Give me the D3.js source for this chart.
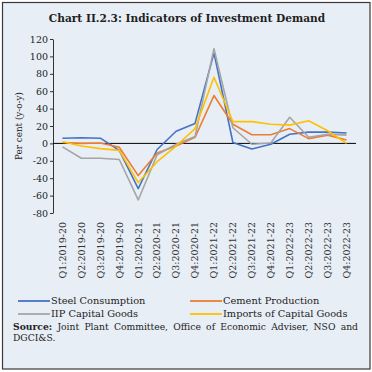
<!DOCTYPE html>
<html>
<head>
<meta charset="utf-8">
<script src="https://cdn.jsdelivr.net/npm/d3@7"></script>
<style>
  html, body { margin: 0; padding: 0; background: #ffffff; }
  svg { display: block; }
</style>
</head>
<body>
<svg id="chart" width="372" height="372"></svg>
<script>
const categories = ["Q1:2019-20","Q2:2019-20","Q3:2019-20","Q4:2019-20",
  "Q1:2020-21","Q2:2020-21","Q3:2020-21","Q4:2020-21",
  "Q1:2021-22","Q2:2021-22","Q3:2021-22","Q4:2021-22",
  "Q1:2022-23","Q2:2022-23","Q3:2022-23","Q4:2022-23"];
const steelConsumption = [6, 6.5, 6, -8, -52, -7, 14, 23, 104, 1, -6.5, -1, 10.5, 13, 13, 12];
const cementProduction = [1, 0, 0.5, -4.5, -37, -11, -3, 7, 55, 22, 10, 10, 17, 5.5, 9.5, 4];
const iipCapitalGoods = [-4, -17, -17, -18.5, -65, -13, -1, 8, 109, 18, -1, 0.5, 30, 7, 10.5, 9.5];
const importsCapitalGoods = [2, -3, -6, -8, -45, -21, -3, 17, 76, 25, 25, 22, 21, 26, 14.5, 0];
const yTicks = [-80, -60, -40, -20, 0, 20, 40, 60, 80, 100, 120];
const seriesNames = ["Steel Consumption", "Cement Production", "IIP Capital Goods", "Imports of Capital Goods"];
const seriesColors = ["#4472C4", "#ED7D31", "#A5A5A5", "#FFC000"];
const seriesValues = [steelConsumption, cementProduction, iipCapitalGoods, importsCapitalGoods];

const FONT = "'DejaVu Serif', serif";
const svg = d3.select("#chart");

// frame
svg.append("rect").attr("x", 2.5).attr("y", 2.5).attr("width", 367.5).attr("height", 366.5)
  .attr("fill", "#E8EEF5").attr("stroke", "#3a3a3a").attr("stroke-width", 1.2);

// title
svg.append("text").attr("x", 187).attr("y", 22).attr("text-anchor", "middle")
  .attr("font-family", FONT).attr("font-weight", "bold").attr("font-size", 10.6)
  .attr("fill", "#1f1f1f").text("Chart II.2.3: Indicators of Investment Demand");

const x = d3.scaleBand().domain(categories).range([53, 356]);
const y = d3.scaleLinear().domain([-80, 120]).range([213, 39]);
const cx = d => x(d) + x.bandwidth() / 2;

// y axis
const yAxis = svg.append("g").attr("transform", "translate(53,0)")
  .call(d3.axisLeft(y).tickValues(yTicks).tickFormat(d => String(d))
    .tickSize(3).tickSizeOuter(0).tickPadding(2));
yAxis.select(".domain").attr("stroke", "#333");
yAxis.selectAll(".tick line").attr("stroke", "#333");
yAxis.selectAll(".tick text").attr("font-family", FONT).attr("font-size", 9.5).attr("fill", "#222");

// y title
svg.append("text").attr("transform", "translate(22,126) rotate(-90)").attr("text-anchor", "middle")
  .attr("font-family", FONT).attr("font-size", 8.8).attr("fill", "#222").text("Per cent (y-o-y)");

// zero line
svg.append("line").attr("x1", 53).attr("x2", 356).attr("y1", y(0)).attr("y2", y(0))
  .attr("stroke", "#000").attr("stroke-width", 1);

// x labels
svg.append("g").selectAll("text").data(categories).join("text")
  .attr("transform", d => `translate(${cx(d)},222) rotate(-90)`)
  .attr("text-anchor", "end").attr("dy", "0.35em")
  .attr("font-family", FONT).attr("font-size", 9.5).attr("fill", "#333")
  .text(d => d);

// lines
const line = d3.line().x((v, i) => cx(categories[i])).y(v => y(v));
svg.append("g").selectAll("path").data(seriesValues).join("path")
  .attr("d", d => line(d)).attr("fill", "none")
  .attr("stroke", (d, i) => seriesColors[i]).attr("stroke-width", 1.6)
  .attr("stroke-linejoin", "round");

// legend
const legPos = [[18, 301], [190, 301], [18, 314], [190, 314]];
const leg = svg.append("g").selectAll("g").data(seriesNames).join("g")
  .attr("transform", (d, i) => `translate(${legPos[i][0]},${legPos[i][1]})`);
leg.append("line").attr("x1", 0).attr("x2", 32).attr("y1", 0).attr("y2", 0)
  .attr("stroke", (d, i) => seriesColors[i]).attr("stroke-width", 1.8);
leg.append("text").attr("x", 33).attr("dy", "0.35em")
  .attr("font-family", FONT).attr("font-size", 9.8).attr("fill", "#222").text(d => d);

// source (justified first line)
const srcWords = ["Source:", "Joint", "Plant", "Committee,", "Office", "of", "Economic", "Adviser,", "NSO", "and"];
const srcG = svg.append("g").attr("font-family", FONT).attr("font-size", 9.2).attr("fill", "#222");
const left = 13, right = 358, y1 = 330;
const nodes = srcWords.map((w, i) => srcG.append("text").attr("y", y1)
  .attr("font-weight", i === 0 ? "bold" : "normal").text(w));
const widths = nodes.map(n => n.node().getComputedTextLength());
const total = widths.reduce((a, b) => a + b, 0);
const gap = (right - left - total) / (srcWords.length - 1);
let xx = left;
nodes.forEach((n, i) => { n.attr("x", xx); xx += widths[i] + gap; });
srcG.append("text").attr("x", left).attr("y", y1 + 11).text("DGCI&S.");
</script>
</body>
</html>
